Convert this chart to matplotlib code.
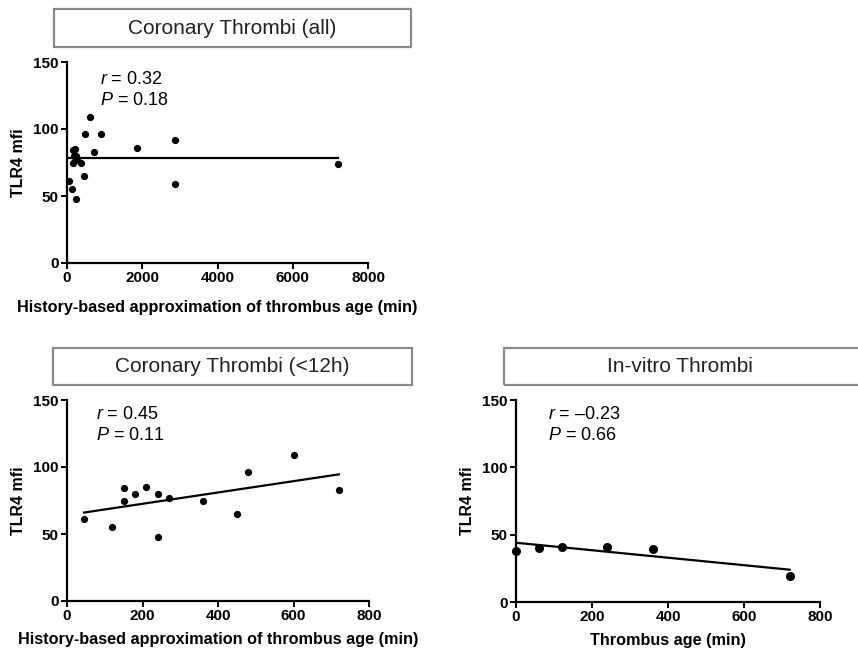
import numpy as np
import matplotlib.pyplot as plt
from matplotlib.patches import Rectangle

plt.rcParams.update({
    "font.family": ["Liberation Sans", "DejaVu Sans"],
    "mathtext.fontset": "custom",
    "mathtext.rm": "Liberation Sans",
    "mathtext.it": "Liberation Sans:italic",
})

# --- data ---
# coronary thrombi < 12 h
age_12h = [45, 120, 150, 150, 180, 210, 240, 240, 270, 360, 450, 480, 600, 720]
tlr4_12h = [61, 55, 84, 75, 80, 85, 80, 48, 77, 75, 65, 96, 109, 83]
fit_12h_x = [45, 720]
fit_12h_y = [66, 94.5]

# extra coronary thrombi (> 12 h), added to the "all" panel
age_late = [900, 1860, 2880, 2880, 7200]
tlr4_late = [96, 86, 92, 59, 74]
age_all = age_12h + age_late
tlr4_all = tlr4_12h + tlr4_late
fit_all_x = [45, 7200]
fit_all_y = [78, 78]

# in-vitro thrombi
age_vitro = [0, 60, 120, 240, 360, 720]
tlr4_vitro = [38, 40, 41, 41, 39, 19]
fit_vitro_x = [0, 720]
fit_vitro_y = [44, 24]

W, H = 858, 648
fig = plt.figure(figsize=(W / 100, H / 100), dpi=100)


def px_axes(x0, y0, x1, y1):
    return fig.add_axes([x0 / W, 1 - y1 / H, (x1 - x0) / W, (y1 - y0) / H])


def title_box(x0, y0, x1, y1, text):
    fig.patches.append(Rectangle((x0 / W, 1 - y1 / H), (x1 - x0) / W, (y1 - y0) / H,
                                 transform=fig.transFigure, fill=False,
                                 edgecolor="#8a8a8a", linewidth=1.6))
    xc = (x0 + min(x1, 856)) / 2
    fig.text(xc / W, 1 - (y0 + y1) / 2 / H, text, ha="center", va="center",
             fontsize=15, color="#222222")


def style(ax, xmax, xticks, xlabel, r, p, tx, ty, xpad):
    ax.set_xlim(0, xmax)
    ax.set_ylim(0, 150)
    ax.set_xticks(xticks)
    ax.set_yticks([0, 50, 100, 150])
    for s in ["top", "right"]:
        ax.spines[s].set_visible(False)
    for s in ["left", "bottom"]:
        ax.spines[s].set_linewidth(1.6)
    ax.tick_params(direction="out", length=4, width=1.4, labelsize=11, pad=2)
    for lab in ax.get_xticklabels() + ax.get_yticklabels():
        lab.set_fontweight("bold")
    ax.set_ylabel("TLR4 mfi", fontsize=11.5, fontweight="bold", labelpad=5)
    ax.set_xlabel(xlabel, fontsize=11.7, fontweight="bold", labelpad=xpad)
    ax.text(tx, ty, "$r$ = " + r, transform=ax.transAxes, fontsize=13, va="center")
    ax.text(tx, ty - 0.107, "$P$ = " + p, transform=ax.transAxes, fontsize=13, va="center")


hist_label = "History-based approximation of thrombus age (min)"

# top panel: all coronary thrombi
ax1 = px_axes(67, 62, 368, 263)
ax1.plot(age_all, tlr4_all, "o", color="black", ms=4.2, clip_on=False)
ax1.plot(fit_all_x, fit_all_y, color="black", lw=1.6)
style(ax1, 8000, [0, 2000, 4000, 6000, 8000], hist_label, "0.32", "0.18", 0.11, 0.915, 10.5)
title_box(54, 9, 411, 47, "Coronary Thrombi (all)")

# bottom left: < 12 h
ax2 = px_axes(67, 400, 369, 601)
ax2.plot(age_12h, tlr4_12h, "o", color="black", ms=4.2, clip_on=False)
ax2.plot(fit_12h_x, fit_12h_y, color="black", lw=1.6)
style(ax2, 800, [0, 200, 400, 600, 800], hist_label, "0.45", "0.11", 0.095, 0.93, 6.5)
title_box(53, 348, 412, 385, "Coronary Thrombi (<12h)")

# bottom right: in-vitro
ax3 = px_axes(516, 400, 820, 602)
ax3.plot(age_vitro, tlr4_vitro, "o", color="black", ms=5.5, clip_on=False)
ax3.plot(fit_vitro_x, fit_vitro_y, color="black", lw=1.6)
style(ax3, 800, [0, 200, 400, 600, 800], "Thrombus age (min)", "\u20130.23", "0.66", 0.105, 0.93, 6.5)
title_box(504, 348, 870, 385, "In-vitro Thrombi")

fig.savefig("out.png", dpi=100)
